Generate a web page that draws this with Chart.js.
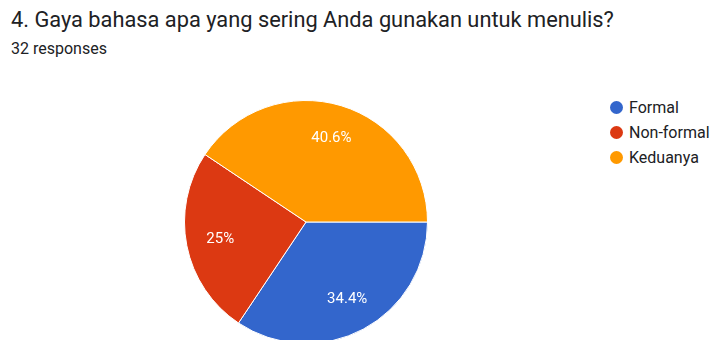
<!DOCTYPE html>
<html>
<head>
<meta charset="utf-8">
<script src="https://cdn.jsdelivr.net/npm/chart.js@4"></script>
<style>
  html, body { margin:0; padding:0; width:711px; height:340px; overflow:hidden; background:#fff; font-family: Roboto, "Noto Sans", Arial, sans-serif; }
  #title { position:absolute; left:11px; top:6px; font-size:21.8px; line-height:28px; color:#202124; white-space:nowrap; }
  #sub { position:absolute; left:11px; top:39px; font-size:16px; line-height:20px; color:#202124; white-space:nowrap; }
  #wrap { position:absolute; left:180px; top:96px; width:252px; height:252px; }
  #legend { position:absolute; left:610px; top:96px; font-size:16px; color:#202124; }
  .li { position:relative; height:25px; line-height:24px; padding-left:19px; white-space:nowrap; }
  .dot { position:absolute; left:0px; top:5px; width:13px; height:13px; border-radius:50%; }
</style>
</head>
<body>
<div id="title">4. Gaya bahasa apa yang sering Anda gunakan untuk menulis?</div>
<div id="sub">32 responses</div>
<div id="wrap"><canvas id="c" width="252" height="252"></canvas></div>
<div id="legend"></div>
<script>
const categories = ["Formal", "Non-formal", "Keduanya"];
const counts = [11, 8, 13];
const percentLabels = ["34.4%", "25%", "40.6%"];
const colors = ["#3366cc", "#dc3912", "#ff9900"];

const legend = document.getElementById('legend');
categories.forEach((name, i) => {
  const d = document.createElement('div');
  d.className = 'li';
  d.innerHTML = '<span class="dot" style="background:' + colors[i] + '"></span>' + name;
  legend.appendChild(d);
});

const labelPlugin = {
  id: 'sliceLabels',
  afterDatasetsDraw(chart) {
    const ctx = chart.ctx;
    const meta = chart.getDatasetMeta(0);
    ctx.save();
    ctx.fillStyle = '#ffffff';
    ctx.font = '15px Roboto, Arial, sans-serif';
    ctx.textAlign = 'center';
    ctx.textBaseline = 'middle';
    meta.data.forEach((arc, i) => {
      const p = arc.getProps(['x','y','startAngle','endAngle','outerRadius'], true);
      const mid = (p.startAngle + p.endAngle) / 2;
      const r = p.outerRadius * 0.72;
      ctx.fillText(percentLabels[i], p.x + Math.cos(mid) * r, p.y + Math.sin(mid) * r);
    });
    ctx.restore();
  }
};

new Chart(document.getElementById('c'), {
  type: 'pie',
  data: {
    labels: categories,
    datasets: [{
      data: counts,
      backgroundColor: colors,
      borderColor: '#ffffff',
      borderWidth: 1
    }]
  },
  options: {
    responsive: false,
    animation: false,
    rotation: 90,
    layout: { padding: 4 },
    plugins: {
      legend: { display: false },
      tooltip: { enabled: false }
    }
  },
  plugins: [labelPlugin]
});
</script>
</body>
</html>
